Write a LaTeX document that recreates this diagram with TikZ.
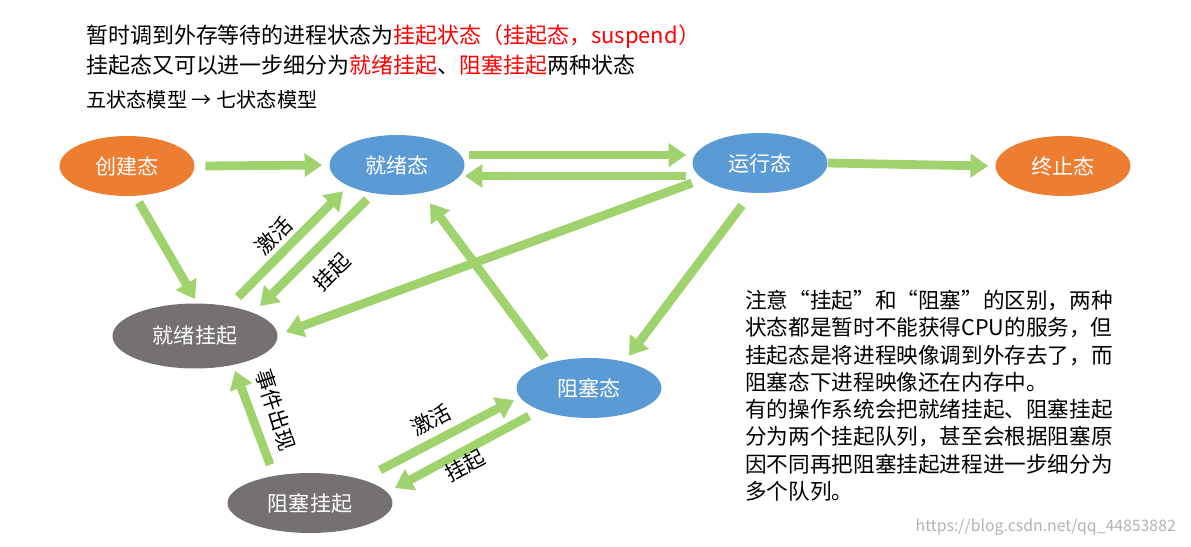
\documentclass[tikz,border=0pt]{standalone}
\usepackage{fontspec}
\setmainfont{Noto Sans CJK SC}
\usepackage{xcolor}
\usetikzlibrary{arrows.meta,shapes.geometric}
\definecolor{orgfill}{RGB}{237,125,49}
\definecolor{bluefill}{RGB}{91,155,213}
\definecolor{grayfill}{RGB}{118,113,113}
\definecolor{arrgreen}{RGB}{160,210,110}
\definecolor{redtxt}{RGB}{255,0,0}

\begin{document}
\begin{tikzpicture}[x=0.02cm, y=-0.02cm,
        state/.style = {ellipse, minimum width=2.7cm, minimum height=1.2cm,
            text=white, font=\fontsize{12pt}{14pt}\selectfont},
        startend/.style = {state, fill=orgfill},
        ready/.style = {state, fill=bluefill},
        suspended/.style = {state, fill=grayfill, minimum width=3.3cm, minimum height=1.3cm},
        flow/.style = {line width=5pt, arrgreen,
            -{Triangle[width=13pt, length=10pt]}},
        lbl/.style = {font=\fontsize{12pt}{14pt}\selectfont}]
    \useasboundingbox (0, 0) rectangle (1191, 547);

    % top text
    \node[anchor=west, font=\fontsize{12.5pt}{15pt}\selectfont] (l1) at (80, 37)
        {暂时调到外存等待的进程状态为\textcolor{redtxt}{挂起状态（挂起态，suspend）}};
    \node[anchor=west, font=\fontsize{12.5pt}{15pt}\selectfont] (l2) at (80, 65)
        {挂起态又可以进一步细分为\textcolor{redtxt}{就绪挂起}、\textcolor{redtxt}{阻塞挂起}两种状态};
    \node[anchor=west, font=\fontsize{11.5pt}{13pt}\selectfont] (l3) at (80, 100)
        {五状态模型 → 七状态模型};

    % states
    \node[startend] (create) at (127, 166) {创建态};
    \node[ready] (ready) at (397, 165) {就绪态};
    \node[ready] (run) at (760, 163) {运行态};
    \node[startend] (term) at (1063, 166) {终止态};
    \node[suspended] (rsusp) at (195, 336) {就绪挂起};
    \node[ready, minimum width=2.9cm] (block) at (589, 388) {阻塞态};
    \node[suspended, minimum height=1.2cm] (bsusp) at (310, 503) {阻塞挂起};

    % transitions
    \draw[flow] ([xshift=6]create.east) -- ([xshift=-4]ready.west);
    \draw[flow] ([shift={(4,-10)}]ready.east) -- ([shift={(-6,-8)}]run.west);
    \draw[flow] ([shift={(-6,13)}]run.west) -- ([shift={(0,11)}]ready.east);
    \draw[flow] (run.east) -- ([xshift=-4]term.west);
    \draw[flow] ([shift={(12,6)}]create.south) -- ([shift={(0,-4)}]rsusp.north);
    \draw[flow] ([shift={(43,-6)}]rsusp.north) -- ([shift={(-54,-4)}]ready.south);
    \draw[flow] ([shift={(-30,4)}]ready.south) -- ([shift={(65,-30)}]rsusp.center);
    \draw[flow] ([shift={(-68,20)}]run.center) -- ([shift={(8,-4)}]rsusp.east);
    \draw[flow] ([shift={(-18,12)}]run.south) -- ([shift={(40,-2)}]block.north);
    \draw[flow] ([shift={(-44,-30)}]block.center) -- ([shift={(33,8)}]ready.south);
    \draw[flow] ([shift={(-40,-8)}]bsusp.north) -- ([shift={(40,2)}]rsusp.south);
    \draw[flow] ([shift={(70,-33)}]bsusp.center) -- ([shift={(-75,12)}]block.center);
    \draw[flow] ([shift={(-60,28)}]block.center) -- ([shift={(85,-15)}]bsusp.center);

    % transition labels
    \node[lbl, rotate=45] (act1) at (274, 236) {激活};
    \node[lbl, rotate=45] (sus1) at (332, 272) {挂起};
    \node[lbl, rotate=-72] (event) at (276, 410) {事件出现};
    \node[lbl, rotate=28] (act2) at (431, 420) {激活};
    \node[lbl, rotate=28] (sus2) at (465, 466) {挂起};

    % note
    \node[anchor=north west, align=left, inner sep=0pt,
        font=\fontsize{12.3pt}{15.5pt}\selectfont] (note) at (745, 290)
        {注意“挂起”和“阻塞”的区别，两种\\
         状态都是暂时不能获得CPU的服务，但\\
         挂起态是将进程映像调到外存去了，而\\
         阻塞态下进程映像还在内存中。\\
         有的操作系统会把就绪挂起、阻塞挂起\\
         分为两个挂起队列，甚至会根据阻塞原\\
         因不同再把阻塞挂起进程进一步细分为\\
         多个队列。};
    \node[anchor=east, text=gray!60, font=\fontsize{9pt}{11pt}\selectfont] (mark) at (1182, 527)
        {https://blog.csdn.net/qq\_44853882};
\end{tikzpicture}
\end{document}
